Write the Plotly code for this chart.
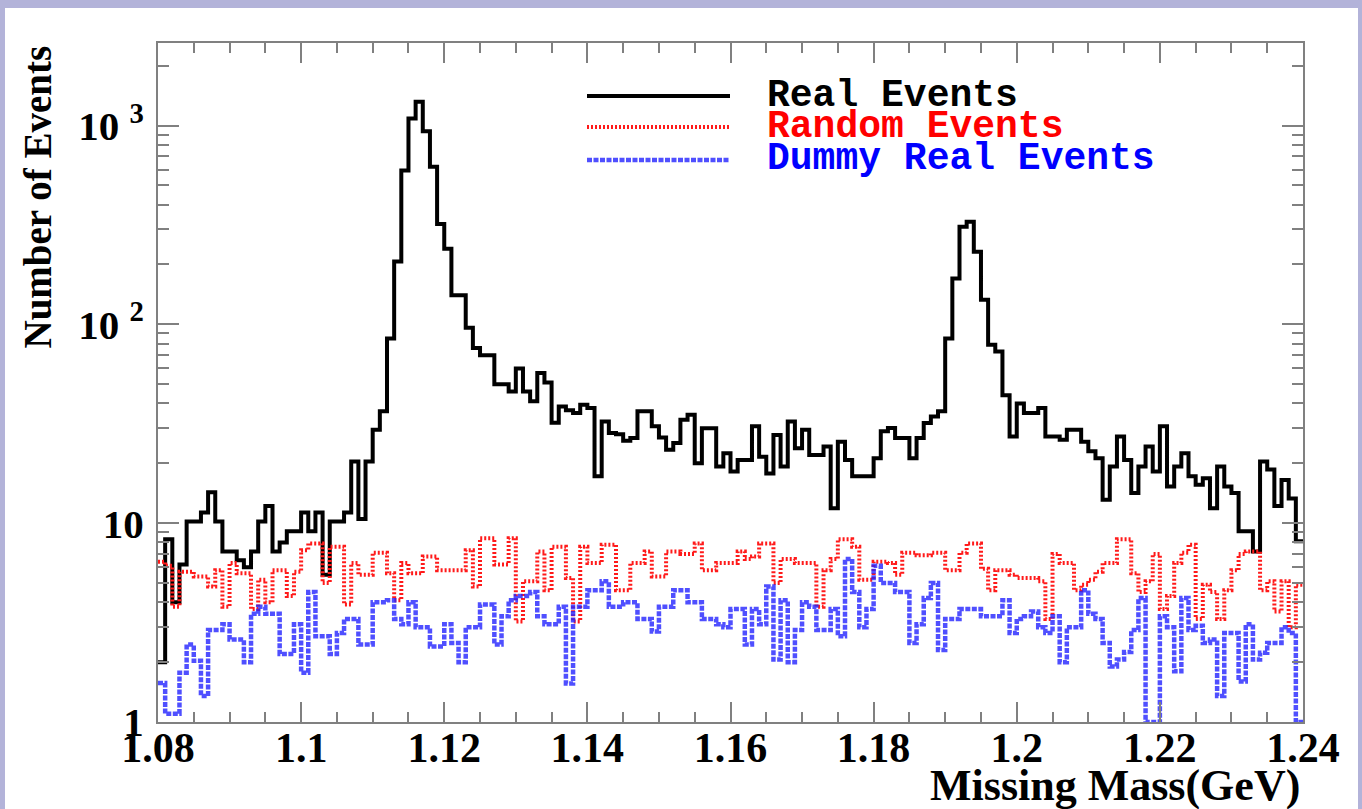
import numpy as np
import plotly.graph_objects as go

# ---------------- data ----------------
bin_lo, bin_hi, nbins = 1.08, 1.24, 160

real_events = [
    2.0, 8.3, 4.0, 6.2, 10.2, 10.2, 11.3, 14.3, 10.2, 7.2,
    7.2, 6.5, 6.0, 7.2, 10.2, 12.2, 7.2, 8.0, 9.1, 9.1,
    11.3, 9.1, 11.3, 5.5, 10.2, 10.2, 11.3, 20.4, 10.5, 20.4,
    29.5, 36.5, 85, 207, 594, 1085, 1315, 935, 620, 320,
    240, 140, 140, 96, 76, 70, 70, 50, 50, 46,
    60, 46, 41, 57, 51, 32, 38.6, 37, 35.8, 39.4,
    38, 17.2, 32.5, 28.4, 28, 26, 26.8, 36.5, 36.5, 30.7,
    27, 23.4, 25.3, 33.1, 35.1, 20, 30, 30, 19.3, 22.5,
    18.2, 20.8, 20.8, 30.7, 21.6, 17.8, 27.8, 19.3, 32.5, 23.8,
    29.5, 22, 22, 24.3, 11.9, 25.7, 20.8, 17.2, 17.2, 17.2,
    21.2, 29, 30.1, 26.8, 26.8, 21.2, 26.8, 31.9, 34.4, 36.5,
    85, 170, 310, 328, 232, 133, 79, 73, 44, 27.3,
    40, 35.8, 35.8, 38, 27.3, 27.3, 26.3, 29.5, 29.5, 25.7,
    23, 21.2, 13.1, 19.3, 27.3, 20.8, 14.2, 19.3, 24.3, 18.2,
    30.7, 15.3, 19.3, 22.5, 17.2, 15.6, 16.8, 11.9, 19.3, 15.3,
    14.2, 9.1, 9.1, 7.2, 20.4, 18.6, 12.2, 16.5, 13.3, 8.1,
]

random_events = [
    6.4, 6.1, 3.8, 5.7, 5.7, 5.4, 5.4, 4.8, 5.8, 3.8,
    6.3, 5.6, 5.6, 3.7, 5.2, 4.0, 5.8, 5.8, 4.3, 5.7,
    7.3, 7.9, 7.9, 5.0, 7.6, 7.6, 3.9, 6.3, 5.5, 5.5,
    7.1, 7.1, 5.6, 4.1, 6.3, 5.6, 5.6, 6.8, 6.8, 5.8,
    5.8, 5.8, 5.8, 7.3, 4.8, 8.4, 8.4, 6.2, 6.2, 8.4,
    3.2, 5.1, 5.1, 7.2, 4.6, 7.6, 7.6, 5.3, 3.2, 7.6,
    6.3, 6.3, 7.8, 7.8, 4.6, 4.6, 6.3, 6.3, 7.2, 5.4,
    5.4, 7.2, 7.2, 7.0, 7.0, 7.9, 5.8, 5.8, 6.3, 6.3,
    6.3, 7.2, 6.6, 6.8, 7.9, 7.9, 5.0, 6.6, 6.6, 6.3,
    6.3, 6.3, 3.8, 5.8, 6.6, 8.3, 8.3, 7.6, 5.2, 5.2,
    6.4, 6.4, 6.3, 5.5, 7.1, 7.1, 6.9, 6.9, 7.1, 7.1,
    5.8, 5.8, 7.1, 7.9, 7.9, 5.9, 4.6, 5.8, 5.8, 5.5,
    5.3, 5.3, 5.3, 5.1, 3.3, 7.0, 6.3, 6.3, 4.6, 4.9,
    5.2, 5.7, 6.3, 6.3, 8.3, 8.3, 5.6, 4.5, 5.1, 7.0,
    3.7, 4.3, 6.3, 7.1, 7.8, 3.3, 4.9, 4.5, 3.3, 4.6,
    5.8, 7.0, 7.2, 7.2, 4.6, 5.1, 3.6, 5.1, 3.0, 4.9,
]

dummy_real_events = [
    1.57, 1.1, 1.1, 1.77, 2.45, 2.03, 1.35, 2.9, 2.9, 3.1,
    2.6, 2.6, 2.0, 3.5, 3.8, 3.5, 3.5, 2.2, 2.2, 3.1,
    1.77, 4.5, 2.7, 2.7, 2.2, 2.8, 3.3, 3.3, 2.45, 2.45,
    4.0, 4.0, 4.1, 3.3, 3.1, 4.0, 3.0, 3.0, 2.4, 2.4,
    3.1, 2.5, 2.0, 3.0, 3.0, 3.9, 3.9, 2.45, 3.4, 4.1,
    4.3, 4.3, 4.5, 3.4, 3.1, 3.1, 3.8, 1.56, 3.8, 3.8,
    4.6, 4.6, 5.1, 3.8, 3.8, 4.0, 4.0, 3.3, 3.3, 2.85,
    3.8, 3.8, 4.6, 4.6, 4.0, 4.0, 3.3, 3.3, 3.1, 3.0,
    3.7, 3.7, 2.45, 3.7, 3.1, 4.8, 2.06, 4.1, 2.0, 2.9,
    4.0, 3.8, 2.9, 2.9, 3.7, 2.7, 6.6, 4.5, 3.0, 3.7,
    6.1, 5.0, 5.0, 4.5, 4.5, 2.5, 3.1, 4.2, 5.0, 2.3,
    3.3, 3.3, 3.7, 3.7, 3.7, 3.4, 3.4, 3.4, 4.1, 2.8,
    3.3, 3.4, 3.6, 3.0, 2.8, 3.4, 2.0, 3.0, 3.0, 4.6,
    3.5, 3.3, 2.5, 1.9, 2.06, 2.25, 2.9, 4.2, 1.0, 1.0,
    3.4, 3.0, 1.8, 4.2, 2.9, 3.05, 2.5, 2.6, 1.35, 2.8,
    2.8, 1.6, 3.1, 2.06, 2.23, 2.5, 2.5, 3.0, 2.8, 1.0,
]

x_tick_vals = [1.08, 1.10, 1.12, 1.14, 1.16, 1.18, 1.20, 1.22, 1.24]
x_tick_text = ["1.08", "1.1", "1.12", "1.14", "1.16", "1.18", "1.2", "1.22", "1.24"]
y_tick_vals = [1, 10, 100, 1000]
y_tick_text = ["1", "10", "10 <sup>2</sup>", "10 <sup>3</sup>"]

legend_names = ["Real Events", "Random Events", "Dummy Real Events"]

# ---------------- figure ----------------
W, H = 1362, 809
edges = bin_lo + np.arange(nbins + 1) * (bin_hi - bin_lo) / nbins


def step(v):
    return list(v) + [v[-1]]


styles = [
    dict(color="black", width=4, dash="solid"),
    dict(color="#ff1a1a", width=4, dash="2px,2px"),
    dict(color="rgba(35,35,255,0.8)", width=4.5, dash="5px,1.5px"),
]
series = [real_events, random_events, dummy_real_events]

fig = go.Figure()
for vals, st, name in zip(series, styles, legend_names):
    fig.add_trace(go.Scatter(
        x=edges, y=step(vals), mode="lines", name=name,
        line=dict(color=st["color"], width=st["width"], dash=st["dash"], shape="hv"),
        showlegend=False, hoverinfo="skip",
    ))

px = lambda v: v / W
py = lambda v: 1 - v / H

axis_grey = "#808080"
x_font = dict(family="Liberation Serif", size=42, color="black", weight="bold")
y_font = dict(family="Liberation Serif", size=41, color="black", weight="bold")

shapes = [
    dict(type="rect", xref="paper", yref="paper", x0=px(5), x1=px(1358), y0=0, y1=py(8),
         fillcolor="white", line=dict(width=0), layer="below"),
]
annotations = []
leg_y = [96, 127, 160]
leg_colors = ["black", "#ff0000", "#0000ff"]
for i, name in enumerate(legend_names):
    st = styles[i]
    shapes.append(dict(type="line", xref="paper", yref="paper",
                       x0=px(587), x1=px(730), y0=py(leg_y[i]), y1=py(leg_y[i]),
                       line=dict(color=st["color"], width=st["width"], dash=st["dash"])))
    annotations.append(dict(xref="paper", yref="paper", x=px(765), y=py(leg_y[i] - 1),
                            xanchor="left", yanchor="middle", showarrow=False, text=name,
                            font=dict(family="Liberation Mono", size=38, color=leg_colors[i],
                                      weight="bold")))

annotations.append(dict(xref="paper", yref="paper", x=px(37), y=py(44), xanchor="center",
                        yanchor="top", textangle=-90, showarrow=False, text="Number of Events",
                        font=dict(family="Liberation Serif", size=39, color="black", weight="bold")))
annotations.append(dict(xref="paper", yref="paper", x=px(1302), y=py(812), xanchor="right",
                        yanchor="bottom", showarrow=False, text="Missing Mass(GeV)",
                        font=dict(family="Liberation Serif", size=44, color="black", weight="bold")))

fig.update_layout(
    width=W, height=H, margin=dict(l=0, r=0, t=0, b=0, autoexpand=False),
    paper_bgcolor="#b3b3d9", plot_bgcolor="white",
    shapes=shapes, annotations=annotations, showlegend=False,
    xaxis=dict(
        domain=[px(158), px(1303)], range=[bin_lo, bin_hi], automargin=False,
        showline=True, linecolor=axis_grey, linewidth=2, mirror="ticks",
        ticks="inside", ticklen=20, tickwidth=2, tickcolor=axis_grey,
        tickvals=x_tick_vals, ticktext=x_tick_text, tickfont=x_font,
        ticklabelstandoff=-12,
        minor=dict(ticks="inside", ticklen=10, tickwidth=2, tickcolor=axis_grey,
                   tick0=1.08, dtick=0.005, showgrid=False),
        showgrid=False, zeroline=False,
    ),
    yaxis=dict(
        domain=[py(722), py(43)], type="log", range=[0, 3.415], automargin=False,
        showline=True, linecolor=axis_grey, linewidth=2, mirror="ticks",
        ticks="inside", ticklen=21, tickwidth=2, tickcolor=axis_grey,
        tickvals=y_tick_vals, ticktext=y_tick_text, tickfont=y_font,
        ticklabelstandoff=4,
        minor=dict(ticks="inside", ticklen=11, tickwidth=2, tickcolor=axis_grey,
                   dtick="D1", showgrid=False),
        showgrid=False, zeroline=False,
    ),
)

fig.write_html("out.html")
